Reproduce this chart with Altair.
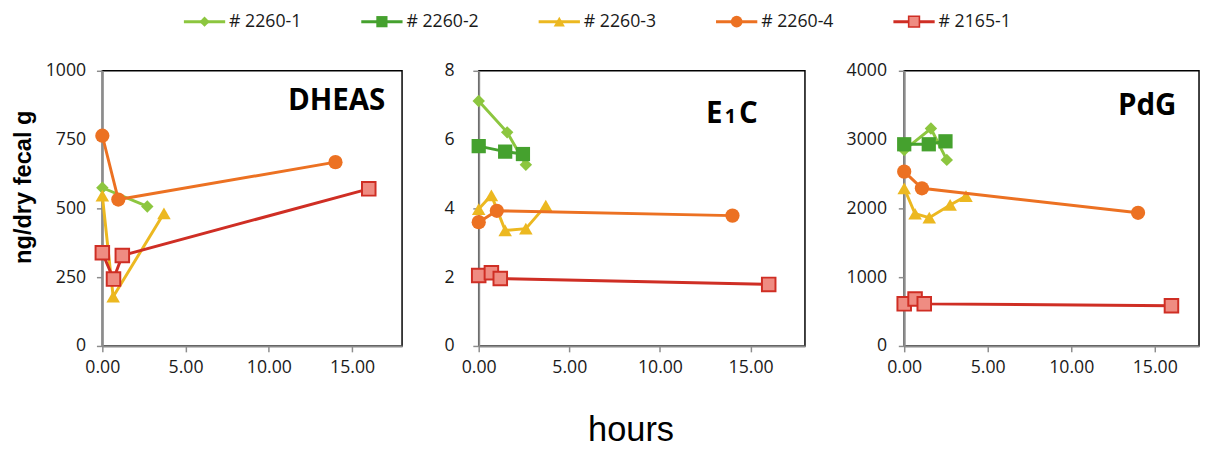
import altair as alt
import pandas as pd

# ---------------- legend / series definitions ----------------
SERIES = ["# 2260-1", "# 2260-2", "# 2260-3", "# 2260-4", "# 2165-1"]
LINE_COLORS = ["#8cc63f", "#45a12e", "#ecb820", "#ec7122", "#cf2e24"]
FILL_COLORS = ["#8cc63f", "#45a12e", "#ecb820", "#ec7122", "#ef8c82"]
SHAPES = ["diamond", "square", "triangle-up", "circle", "square"]
SIZES = [160, 210, 190, 210, 190]
STROKE_W = [0, 0, 0, 0, 2]
LEG_SIZES = [110, 130, 130, 140, 120]

# ---------------- DHEAS (ng/dry fecal g) ----------------
DHEAS_2260_1_H = [0.0, 2.7]
DHEAS_2260_1_V = [575, 507]
DHEAS_2260_3_H = [0.0, 0.65, 3.7]
DHEAS_2260_3_V = [546, 179, 482]
DHEAS_2260_4_H = [0.0, 0.96, 14.0]
DHEAS_2260_4_V = [764, 532, 668]
DHEAS_2165_1_H = [0.0, 0.67, 1.2, 16.0]
DHEAS_2165_1_V = [339, 243, 329, 571]

# ---------------- E1C ----------------
E1C_2260_1_H = [0.0, 1.57, 2.6]
E1C_2260_1_V = [7.12, 6.21, 5.27]
E1C_2260_2_H = [0.0, 1.46, 2.44]
E1C_2260_2_V = [5.81, 5.65, 5.58]
E1C_2260_3_H = [0.0, 0.7, 1.46, 2.6, 3.7]
E1C_2260_3_V = [3.98, 4.38, 3.36, 3.41, 4.08]
E1C_2260_4_H = [0.0, 1.0, 14.0]
E1C_2260_4_V = [3.60, 3.93, 3.79]
E1C_2165_1_H = [0.0, 0.7, 1.19, 16.0]
E1C_2165_1_V = [2.05, 2.13, 1.96, 1.79]

# ---------------- PdG ----------------
PDG_2260_1_H = [0.0, 1.6, 2.55]
PDG_2260_1_V = [2847, 3160, 2705]
PDG_2260_2_H = [0.0, 1.47, 2.47]
PDG_2260_2_V = [2932, 2932, 2975]
PDG_2260_3_H = [0.0, 0.65, 1.5, 2.75, 3.7]
PDG_2260_3_V = [2292, 1922, 1865, 2050, 2178]
PDG_2260_4_H = [0.0, 1.06, 14.0]
PDG_2260_4_V = [2534, 2292, 1936]
PDG_2165_1_H = [0.0, 0.65, 1.2, 16.0]
PDG_2165_1_V = [612, 683, 612, 584]

X_TICKS = [0, 5, 10, 15]
DHEAS_TICKS = [0, 250, 500, 750, 1000]
E1C_TICKS = [0, 2, 4, 6, 8]
PDG_TICKS = [0, 1000, 2000, 3000, 4000]

AXIS_GRAY = "#8c8c8c"
LABEL_FONT = "Open Sans"


def make_panel(series_list, ymax, yticks, width, xmax, ypad, ytitle):
    xaxis = alt.Axis(values=X_TICKS, format=".2f", grid=False, domainColor=AXIS_GRAY,
                     domainWidth=2, tickColor=AXIS_GRAY, tickWidth=1.5, tickSize=6,
                     labelFont=LABEL_FONT, labelFontSize=18, labelColor="#1a1a1a",
                     labelPadding=7, labelFlush=False, title=None)
    yargs = dict(values=yticks, format="d", grid=False, domainColor=AXIS_GRAY,
                 domainWidth=2, tickColor=AXIS_GRAY, tickWidth=1.5, tickSize=6,
                 labelFont=LABEL_FONT, labelFontSize=18, labelColor="#1a1a1a",
                 labelPadding=ypad, labelFlush=False)
    if ytitle:
        yargs.update(title=ytitle, titleFont="Liberation Sans", titleFontSize=24,
                     titleFontWeight="bold", titleColor="black", titleX=-80, titleY=118,
                     titleAlign="center", titleBaseline="middle", titleAngle=270)
    else:
        yargs.update(title=None)
    yaxis = alt.Axis(**yargs)
    layers = []
    for idx, hours, vals in series_list:
        df = pd.DataFrame({"hours": hours, "value": vals})
        base = alt.Chart(df).encode(
            x=alt.X("hours:Q", scale=alt.Scale(domain=[0, xmax], nice=False, zero=True), axis=xaxis),
            y=alt.Y("value:Q", scale=alt.Scale(domain=[0, ymax], nice=False), axis=yaxis),
        )
        layers.append(base.mark_line(color=LINE_COLORS[idx], strokeWidth=3))
        layers.append(base.mark_point(shape=SHAPES[idx], filled=True, opacity=1,
                                      fill=FILL_COLORS[idx], stroke=LINE_COLORS[idx],
                                      strokeWidth=STROKE_W[idx], size=SIZES[idx]))
    return layers


def title_text(txt, x, y, size, align):
    return alt.Chart(pd.DataFrame({"t": [txt]})).mark_text(
        font=LABEL_FONT, fontWeight="bold", fontSize=size, color="black",
        align=align, baseline="alphabetic").encode(
        text="t:N", x=alt.value(x), y=alt.value(y))


W1, W2, W3 = 305, 332, 300
H = 280

p1_layers = make_panel([
    (0, DHEAS_2260_1_H, DHEAS_2260_1_V),
    (2, DHEAS_2260_3_H, DHEAS_2260_3_V),
    (3, DHEAS_2260_4_H, DHEAS_2260_4_V),
    (4, DHEAS_2165_1_H, DHEAS_2165_1_V),
], 1000, DHEAS_TICKS, W1, 18, 11, "ng/dry fecal g")
p1 = alt.layer(*p1_layers, title_text("DHEAS", W1 - 17, 40, 30, "right")).properties(width=W1, height=H)

p2_layers = make_panel([
    (0, E1C_2260_1_H, E1C_2260_1_V),
    (1, E1C_2260_2_H, E1C_2260_2_V),
    (2, E1C_2260_3_H, E1C_2260_3_V),
    (3, E1C_2260_4_H, E1C_2260_4_V),
    (4, E1C_2165_1_H, E1C_2165_1_V),
], 8, E1C_TICKS, W2, 18, 19, None)
p2 = alt.layer(*p2_layers,
               title_text("E", 248, 53, 30, "right"),
               title_text("1", 256, 53, 20, "center"),
               title_text("C", 265, 53, 30, "left")).properties(width=W2, height=H)

p3_layers = make_panel([
    (0, PDG_2260_1_H, PDG_2260_1_V),
    (1, PDG_2260_2_H, PDG_2260_2_V),
    (2, PDG_2260_3_H, PDG_2260_3_V),
    (3, PDG_2260_4_H, PDG_2260_4_V),
    (4, PDG_2165_1_H, PDG_2165_1_V),
], 4000, PDG_TICKS, W3, 17.65, 12, None)
p3 = alt.layer(*p3_layers, title_text("PdG", 277, 45, 30, "right")).properties(width=W3, height=H)

# ---------------- custom legend (line + marker) ----------------
leg_layers = []
lx_scale = alt.Scale(domain=[0, 4], range=[104, 826])
for i, name in enumerate(SERIES):
    ldf = pd.DataFrame({"series": [name], "slot": [i]})
    b = alt.Chart(ldf).encode(x=alt.X("slot:Q", scale=lx_scale, axis=None), y=alt.value(9))
    leg_layers.append(b.mark_rule(color=LINE_COLORS[i], strokeWidth=3, xOffset=-21, x2Offset=21)
                      .encode(x2=alt.X2("slot")))
    leg_layers.append(b.mark_point(shape=SHAPES[i], filled=True, opacity=1, fill=FILL_COLORS[i],
                                   stroke=LINE_COLORS[i], strokeWidth=STROKE_W[i] * 0.8,
                                   size=LEG_SIZES[i]))
    leg_layers.append(b.mark_text(align="left", baseline="middle", dx=25, font=LABEL_FONT,
                                  fontSize=18, color="#1a1a1a").encode(text="series:N"))
legend = alt.layer(*leg_layers).properties(width=1000, height=22,
                                           view=alt.ViewBackground(stroke="transparent"))

row = alt.hconcat(alt.hconcat(p1, p2, spacing=40), p3, spacing=40)

chart = alt.vconcat(legend, row, spacing=26).properties(
    title=alt.TitleParams("hours", orient="bottom", anchor="middle", fontSize=35,
                          font="Liberation Sans", fontWeight="normal", offset=37, dx=26,
                          color="black"),
    padding={"left": 3, "top": 0, "right": 0, "bottom": 0},
    background="white",
).configure_view(stroke="black", strokeWidth=1.5)

chart.save("out.html", embed_options={"renderer": "svg", "actions": False})
